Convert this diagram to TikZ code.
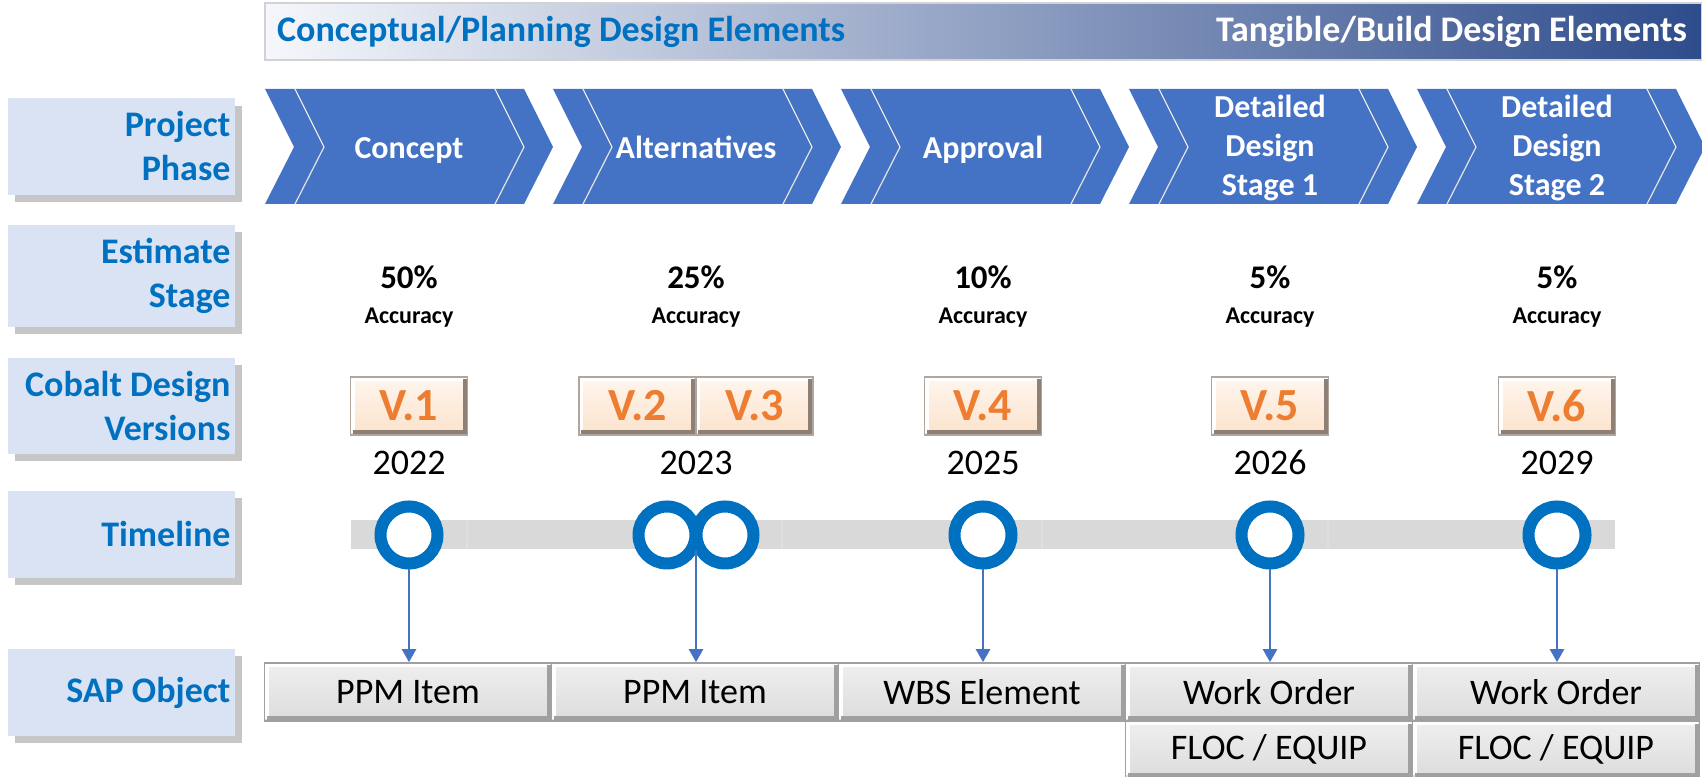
\documentclass[tikz,border=0pt]{standalone}
\usepackage{fontspec}
\setmainfont{Carlito}
\usetikzlibrary{arrows.meta, shadows}

\definecolor{chevblue}{HTML}{4472C4}
\definecolor{labfill}{HTML}{DAE3F3}
\definecolor{labtext}{HTML}{0070C0}
\definecolor{banL}{HTML}{F5F7FB}
\definecolor{banR}{HTML}{2E4C8C}
\definecolor{verlight}{HTML}{FFF6EE}
\definecolor{verfill}{HTML}{FBE2CC}
\definecolor{veredge}{HTML}{8E8074}
\definecolor{vertext}{HTML}{ED7D31}
\definecolor{saplight}{HTML}{EFEFEF}
\definecolor{sapfill}{HTML}{DCDCDC}
\definecolor{sapedge}{HTML}{A0A0A0}
\definecolor{barfill}{HTML}{D9D9D9}

\begin{document}
\begin{tikzpicture}[x=0.25pt, y=-0.25pt,
    rowlabel/.style={fill=labfill, minimum width=56.75pt, minimum height=21.75pt,
        text width=54.5pt, inner xsep=1.1pt, align=flush right, text=labtext,
        font=\fontsize{9}{11}\selectfont\bfseries,
        drop shadow={shadow xshift=1.8pt, shadow yshift=-1.8pt, opacity=0.45}},
    phasetext/.style={text=white, align=center, font=\fontsize{8}{9.75}\selectfont\bfseries},
    chevline/.style={draw=white!80!gray, line width=0.3pt},
    pcttext/.style={font=\fontsize{8.25}{10}\selectfont\bfseries},
    acctext/.style={font=\fontsize{6}{7}\selectfont\bfseries},
    yeartext/.style={font=\fontsize{9}{11}\selectfont},
    bevel/.style={path picture={
        \draw[white, line width=1pt] ([xshift=0.5pt, yshift=0.5pt]path picture bounding box.south west)
            |- ([xshift=-0.5pt, yshift=-0.5pt]path picture bounding box.north east);
        \draw[#1, line width=1.2pt] ([xshift=0.6pt, yshift=0.6pt]path picture bounding box.south west)
            -| ([xshift=-0.6pt, yshift=-0.6pt]path picture bounding box.north east);}},
    verbox/.style={top color=verlight, bottom color=verfill, draw=veredge!70, line width=0.4pt,
        bevel=veredge, minimum width=29.25pt, minimum height=14.5pt, inner sep=0pt,
        text=vertext, font=\fontsize{11.5}{13}\selectfont\bfseries},
    sapbox/.style={top color=saplight, bottom color=sapfill, draw=sapedge, line width=0.4pt,
        bevel=sapedge, minimum width=71.75pt, minimum height=14.5pt, inner sep=0pt,
        font=\fontsize{9}{11}\selectfont},
    ring/.style={circle, draw=labtext, line width=3pt, fill=white, minimum size=14.25pt, inner sep=0pt},
    conn/.style={draw=chevblue, line width=0.6pt, -{Triangle[width=3.5pt, length=3.25pt]}}]

    \useasboundingbox (0,0) rectangle (1702,777);

    \path[left color=banL, right color=banR, draw=gray!35, line width=0.4pt] (265,3) rectangle (1702,60);
    \node[anchor=west, text=labtext, font=\fontsize{9}{11}\selectfont\bfseries] (plan) at (263,31.5) {Conceptual/Planning Design Elements};
    \node[anchor=east, text=white, font=\fontsize{9}{11}\selectfont\bfseries] (build) at (1701,31.5) {Tangible/Build Design Elements};

    \node[rowlabel] (lphase) at (121.5,146.5) {Project\\Phase};
    \node[rowlabel] (lest) at (121.5,276) {Estimate\\Stage};
    \node[rowlabel] (lver) at (121.5,406) {Cobalt Design\\Versions};
    \node[rowlabel] (ltime) at (121.5,534.5) {Timeline};
    \node[rowlabel] (lsap) at (121.5,692.5) {SAP Object};

    \foreach \i/\txt in {0/Concept, 1/Alternatives, 2/Approval, 3/{Detailed\\Design\\Stage 1}, 4/{Detailed\\Design\\Stage 2}} {
        \pgfmathsetmacro{\xa}{265+288*\i}
        \pgfmathsetmacro{\xc}{409+287*\i}
        \fill[chevblue] (\xa,89) -- ++(259,0) -- ++(29,58) -- ++(-29,57) -- ++(-259,0) -- ++(29,-57) -- cycle;
        \draw[chevline] (\xa+30,89) -- ++(29,58) -- ++(-29,57)
            (\xa+230,89) -- ++(29,58) -- ++(-29,57);
        \node[phasetext] (ph\i) at (\xc,151) {\txt\strut};
    }

    \foreach \i/\pc in {0/50, 1/25, 2/10, 3/5, 4/5} {
        \pgfmathsetmacro{\xc}{409+287*\i}
        \node[pcttext, anchor=base] (pc\i) at (\xc,289) {\pc\%};
        \node[acctext, anchor=base] (acc\i) at (\xc,324) {Accuracy};
    }

    \node[verbox] (v1) at (409,406) {V.1};
    \node[verbox] (v2) at (637.5,406) {V.2};
    \node[verbox] (v3) at (754.5,406) {V.3};
    \node[verbox] (v4) at (983,406) {V.4};
    \node[verbox] (v5) at (1270,406) {V.5};
    \node[verbox] (v6) at (1557,406) {V.6};

    \node[yeartext, anchor=base] (y1) at (409,475) {2022};
    \node[yeartext, anchor=base] (y2) at (696,475) {2023};
    \node[yeartext, anchor=base] (y3) at (983,475) {2025};
    \node[yeartext, anchor=base] (y4) at (1270,475) {2026};
    \node[yeartext, anchor=base] (y5) at (1557,475) {2029};

    \fill[barfill] (351,520) rectangle (1615,549);
    \draw[gray!25, line width=0.3pt] (467,520) -- (467,549)
        (782,520) -- (782,549)
        (1042,520) -- (1042,549)
        (1328,520) -- (1328,549);

    \node[ring] (r1) at (409,535) {};
    \node[ring] (r2) at (667,535) {};
    \node[ring] (r3) at (725,535) {};
    \node[ring] (r4) at (983,535) {};
    \node[ring] (r5) at (1270,535) {};
    \node[ring] (r6) at (1557,535) {};
    \coordinate (r23) at (696,550);

    \node[sapbox] (sap1) at (408,692) {PPM Item};
    \node[sapbox] (sap2) at (695,692) {PPM Item};
    \node[sapbox] (sap3) at (982,692) {WBS Element};
    \node[sapbox] (sap4) at (1269,692) {Work Order};
    \node[sapbox] (sap5) at (1556,692) {Work Order};
    \node[sapbox, minimum height=14pt] (floc4) at (1269,749.5) {FLOC / EQUIP};
    \node[sapbox, minimum height=14pt] (floc5) at (1556,749.5) {FLOC / EQUIP};

    \draw[conn] (r1.south) -- (r1.south |- sap1.north);
    \draw[conn] (r23) -- (r23 |- sap2.north);
    \draw[conn] (r4.south) -- (r4.south |- sap3.north);
    \draw[conn] (r5.south) -- (r5.south |- sap4.north);
    \draw[conn] (r6.south) -- (r6.south |- sap5.north);
\end{tikzpicture}
\end{document}
